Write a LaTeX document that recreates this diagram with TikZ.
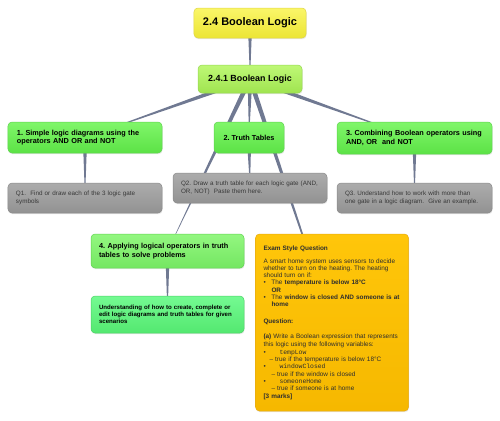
\documentclass[tikz,border=0pt]{standalone}
\usepackage{fontspec}
\setmainfont{Liberation Sans}
\setmonofont{Liberation Mono}
\usetikzlibrary{calc,shadows,backgrounds}
\frenchspacing

\definecolor{linkgray}{RGB}{112,121,146}
\definecolor{rootA}{RGB}{250,246,105}
\definecolor{rootB}{RGB}{236,229,52}
\definecolor{rootC}{RGB}{222,212,70}
\definecolor{subA}{RGB}{190,248,118}
\definecolor{subB}{RGB}{160,228,80}
\definecolor{subC}{RGB}{150,214,82}
\definecolor{topA}{RGB}{128,246,106}
\definecolor{topB}{RGB}{92,226,70}
\definecolor{topC}{RGB}{96,210,80}
\definecolor{qA}{RGB}{172,172,172}
\definecolor{qB}{RGB}{146,146,146}
\definecolor{qC}{RGB}{138,138,138}
\definecolor{mintA}{RGB}{116,250,146}
\definecolor{mintB}{RGB}{84,232,112}
\definecolor{examA}{RGB}{255,198,10}
\definecolor{examB}{RGB}{246,184,0}
\definecolor{examC}{RGB}{230,170,20}

% tapered branch: wide at the parent, thin at the child
\newcommand{\branch}[3]{%
  \fill[linkgray] ($(#1.center)!#3!90:(#2.center)$) -- ($(#1.center)!#3!-90:(#2.center)$) -- (#2.center) -- cycle;}
\newcommand{\bul}{\makebox[8bp][l]{\textbullet}}

\begin{document}
\begin{tikzpicture}[x=1bp,y=-1bp,
    mapbox/.style={rounded corners=4bp, line width=0.5bp, inner xsep=9bp, inner ysep=3bp,
      drop shadow={opacity=0.18,shadow xshift=0.5bp,shadow yshift=-1.2bp}},
    rootbox/.style={mapbox, top color=rootA, bottom color=rootB, draw=rootC,
      minimum width=112bp, minimum height=30bp, font=\fontsize{11bp}{13bp}\selectfont\bfseries},
    subbox/.style={mapbox, top color=subA, bottom color=subB, draw=subC,
      minimum width=104bp, minimum height=28bp, font=\fontsize{8.9bp}{10.5bp}\selectfont\bfseries},
    topicbox/.style={mapbox, top color=topA, bottom color=topB, draw=topC,
      minimum height=31bp, font=\fontsize{7.3bp}{8.4bp}\selectfont\bfseries},
    qbox/.style={mapbox, top color=qA, bottom color=qB, draw=qC, text=black!78,
      text width=138bp, inner xsep=8bp, align=left, minimum height=30bp,
      font=\fontsize{6.3bp}{7.4bp}\selectfont},
  ]
  \useasboundingbox (0,0) rectangle (500,420);

  \node[rootbox] (root) at (250,23) {2.4 Boolean Logic};
  \node[subbox] (sub) at (250,79) {2.4.1 Boolean Logic};

  % first row of topics
  \node[topicbox, text width=136bp, align=left] (simple) at (85,137.5)
    {1. Simple logic diagrams using the\\operators AND OR and NOT};
  \node[topicbox, minimum width=70bp] (truth) at (249,137.5) {2. Truth Tables};
  \node[topicbox, text width=137bp, align=left, minimum height=32bp] (combine) at (414.5,138)
    {3. Combining Boolean operators using\\AND, OR\ \ and NOT};

  % questions
  \node[qbox] (qone) at (85,198) {Q1.\ \ Find or draw each of the 3 logic gate\\symbols};
  \node[qbox] (qtwo) at (250,188) {Q2. Draw a truth table for each logic gate (AND,\\OR, NOT)\ \ Paste them here.};
  \node[qbox, text width=139bp] (qthree) at (414.5,198)
    {Q3. Understand how to work with more than\\one gate in a logic diagram.\ \ Give an example.};

  \node[topicbox, text width=137bp, align=left, minimum height=34bp, inner xsep=8bp,
    top color=topA!85!white, bottom color=topB!85!white] (apply) at (167.5,251)
    {4. Applying logical operators in truth\\tables to solve problems};
  \node[mapbox, top color=mintA, bottom color=mintB, draw=mintB!90!black, text width=137bp,
    align=left, minimum height=37bp, inner xsep=8bp,
    font=\fontsize{6.1bp}{7.2bp}\selectfont\bfseries] (understand) at (167.5,314.5)
    {Understanding of how to create, complete or\\edit logic diagrams and truth tables for given\\scenarios};

  \node[mapbox, top color=examA, bottom color=examB, draw=examC, text width=137bp,
    align=left, minimum height=177bp, inner xsep=8bp, text=black!82,
    font=\fontsize{6.4bp}{7.3bp}\selectfont] (exam) at (332,322.5)
    {\textbf{Exam Style Question}\\[5.4bp]
     A smart home system uses sensors to decide\\
     whether to turn on the heating. The heating\\
     should turn on if:\\
     \bul The \textbf{temperature is below 18°C}\\
     \hspace*{8bp}\textbf{OR}\\
     \bul The \textbf{window is closed AND someone is at}\\
     \hspace*{8bp}\textbf{home}\\[9bp]
     \textbf{Question:}\\[8.4bp]
     \textbf{(a)} Write a Boolean expression that represents\\
     this logic using the following variables:\\[0.8bp]
     \bul\hspace*{8bp}\texttt{tempLow}\\
     \hspace*{6bp}– true if the temperature is below 18°C\\
     \bul\hspace*{8bp}\texttt{windowClosed}\\
     \hspace*{8bp}– true if the window is closed\\
     \bul\hspace*{8bp}\texttt{someoneHome}\\
     \hspace*{8bp}– true if someone is at home\\
     \textbf{[3 marks]}\\[8bp]};

  % branches behind the boxes
  \begin{scope}[on background layer]
    \branch{root}{sub}{2.2bp}
    \branch{sub}{simple}{2.4bp}
    \branch{sub}{truth}{2.4bp}
    \branch{sub}{combine}{2.4bp}
    \branch{sub}{apply}{2.4bp}
    \branch{sub}{exam}{2.4bp}
    \branch{simple}{qone}{2.2bp}
    \branch{truth}{qtwo}{2.2bp}
    \branch{combine}{qthree}{2.2bp}
    \branch{apply}{understand}{2.2bp}
  \end{scope}
\end{tikzpicture}
\end{document}
